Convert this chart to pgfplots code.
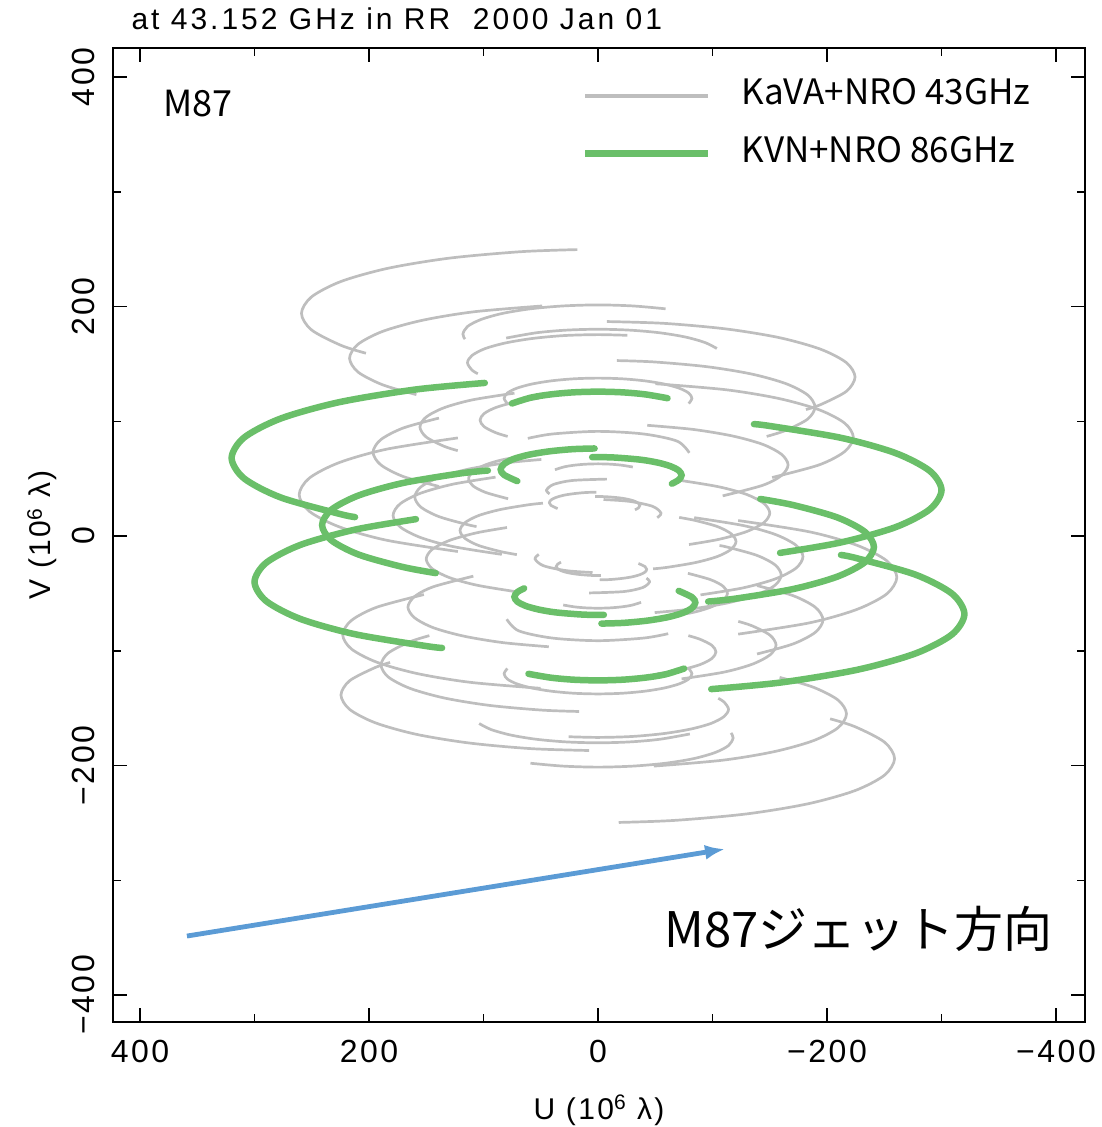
\documentclass[border=0pt]{standalone}
\usepackage{pgfplots}
\pgfplotsset{compat=1.18}
\usetikzlibrary{arrows.meta}
\usepackage{fontspec}
\setmainfont{Liberation Sans}
\newfontfamily\pg[LetterSpace=8]{Liberation Sans}
\newfontfamily\pgt[LetterSpace=10]{Liberation Sans}
\newfontfamily\cjk{Noto Sans CJK JP}
\definecolor{grayc}{RGB}{190,190,190}
\definecolor{greenc}{RGB}{106,191,105}
\definecolor{bluec}{RGB}{91,155,213}
\pgfplotsset{
  gr/.style={color=grayc, line width=2.7pt, smooth, no markers},
  grf/.style={gr, forget plot},
  gn/.style={color=greenc, line width=6.5pt, smooth, no markers, line cap=round},
  gnf/.style={gn, forget plot},
}
\begin{document}
\begin{tikzpicture}
\useasboundingbox (-113pt,-105pt) rectangle (988pt,1022pt);
\begin{axis}[name=ax, at={(0pt,0pt)}, anchor=south west, scale only axis,
  width=972pt, height=974pt,
  x dir=reverse, xmin=-425.3, xmax=423.6, ymin=-423.5, ymax=425.3,
  axis line style={line width=1.8pt},
  tick style={line width=1.5pt, black},
  major tick length=14pt, minor tick length=8pt, tick align=inside,
  xtick={-400,-200,0,200,400}, xticklabels={−400,−200,0,200,400},
  minor xtick={-300,-100,100,300},
  ytick={-400,-200,0,200,400}, yticklabels={−400,−200,0,200,400},
  minor ytick={-300,-100,100,300},
  xticklabel style={font=\pg\fontsize{32}{36}\selectfont, anchor=base},
  xticklabel shift=40pt,
  yticklabel style={font=\pg\fontsize{32}{36}\selectfont, rotate=90, anchor=base},
  yticklabel shift=18pt,
  legend style={at={(0.4825,0.9682)}, anchor=north west, draw=none, fill=none,
    inner sep=0pt, outer sep=0pt, row sep=32pt,
    font=\cjk\fontsize{35}{40}\selectfont,
    nodes={inner sep=0pt, text height=26pt, text depth=0pt}},
  legend cell align=left,
  legend image code/.code={\draw[#1] (0pt,-4pt) -- (123pt,-4pt); \path (153pt,0pt);},
]
\addlegendimage{color=grayc, line width=4.5pt}
\addlegendentry{KaVA+NRO 43GHz}
\addlegendimage{color=greenc, line width=7pt}
\addlegendentry{KVN+NRO 86GHz}
% ---------------- gray: KaVA+NRO 43 GHz ----------------
\addplot[grf] coordinates {(202.7,159.3) (224.3,166.1) (250.2,179.6) (259,194) (250.2,208.4) (224.3,221.9) (183.1,233.4) (129.5,242.2) (67.1,247.8) (18.1,249.6)};
\addplot[grf] coordinates {(-202.7,-159.3) (-224.3,-166.1) (-250.2,-179.6) (-259,-194) (-250.2,-208.4) (-224.3,-221.9) (-183.1,-233.4) (-129.5,-242.2) (-67.1,-247.8) (-18.1,-249.6)};
% G2
\addplot[grf] coordinates {(158.6,123.2) (187.9,131.7) (209.6,142.9) (217,155) (209.6,167.1) (187.9,178.4) (153.4,188) (108.5,195.4) (48.8,200.5)};
\addplot[grf] coordinates {(-158.6,-123.2) (-187.9,-131.7) (-209.6,-142.9) (-217,-155) (-209.6,-167.1) (-187.9,-178.4) (-153.4,-188) (-108.5,-195.4) (-48.8,-200.5)};
% G3
\addplot[grf] coordinates {(116.2,171.6) (118,176) (114,182.6) (102.2,188.7) (83.4,194) (59,198) (30.6,200.5) (0,201.4) (-30.6,200.5) (-59,198)};
\addplot[grf] coordinates {(-116.2,-171.6) (-118,-176) (-114,-182.6) (-102.2,-188.7) (-83.4,-194) (-59,-198) (-30.6,-200.5) (0,-201.4) (30.6,-200.5) (59,-198)};
% G4
\addplot[grf] coordinates {(-7.8,186.9) (-58.1,185.3) (-112.3,180.4) (-158.7,172.8) (-194.4,162.8) (-216.9,151.1) (-224.5,138.6) (-216.9,126.1) (-194.4,114.5) (-181.6,110.2)};
\addplot[grf] coordinates {(7.8,-186.9) (58.1,-185.3) (112.3,-180.4) (158.7,-172.8) (194.4,-162.8) (216.9,-151.1) (224.5,-138.6) (216.9,-126.1) (194.4,-114.5) (181.6,-110.2)};
% G5
\addplot[grf] coordinates {(80.2,172.5) (54,177.1) (28,179.4) (0,180.2) (-28,179.4) (-54,177.1) (-76.4,173.4) (-93.5,168.6) (-103.8,163.4)};
\addplot[grf] coordinates {(-80.2,-172.5) (-54,-177.1) (-28,-179.4) (0,-180.2) (28,-179.4) (54,-177.1) (76.4,-173.4) (93.5,-168.6) (103.8,-163.4)};
% G6
\addplot[grf] coordinates {(105,141.4) (110.1,144.7) (114,151) (110.1,157.3) (98.7,163.3) (80.6,168.3) (57,172.2) (29.5,174.7) (0,175.5) (-25.6,174.9)};
\addplot[grf] coordinates {(-105,-141.4) (-110.1,-144.7) (-114,-151) (-110.1,-157.3) (-98.7,-163.3) (-80.6,-168.3) (-57,-172.2) (-29.5,-174.7) (0,-175.5) (25.6,-174.9)};
% G7
\addplot[grf] coordinates {(-16.5,152.9) (-49.1,151.7) (-94.8,147.6) (-134,141.2) (-164.1,132.8) (-183.1,122.9) (-189.5,112.4) (-183.1,101.9) (-164.1,92.1) (-147.3,86.8)};
\addplot[grf] coordinates {(16.5,-152.9) (49.1,-151.7) (94.8,-147.6) (134,-141.2) (164.1,-132.8) (183.1,-122.9) (189.5,-112.4) (183.1,-101.9) (164.1,-92.1) (147.3,-86.8)};
% G9
\addplot[grf] coordinates {(79.2,115.4) (82,120) (79.2,124.6) (71,128.8) (58,132.4) (41,135.2) (21.2,137) (0,137.6) (-21.2,137) (-41,135.2) (-58,132.4) (-71,128.8) (-79.2,124.6) (-82,120) (-79.2,115.4)};
\addplot[grf] coordinates {(-79.2,-115.4) (-82,-120) (-79.2,-124.6) (-71,-128.8) (-58,-132.4) (-41,-135.2) (-21.2,-137) (0,-137.6) (21.2,-137) (41,-135.2) (58,-132.4) (71,-128.8) (79.2,-124.6) (82,-120) (79.2,-115.4)};
% G10
\addplot[grf] coordinates {(-50.2,132.7) (-111.5,127.5) (-157.7,119.9) (-193.1,110) (-215.4,98.4) (-223,86) (-215.4,73.6) (-193.1,62) (-152.1,51)};
\addplot[grf] coordinates {(50.2,-132.7) (111.5,-127.5) (157.7,-119.9) (193.1,-110) (215.4,-98.4) (223,-86) (215.4,-73.6) (193.1,-62) (152.1,-51)};
% G11
\addplot[grf] coordinates {(122.4,-13.5) (184.5,-3.7) (226,8) (252.1,21.5) (261,36) (252.1,50.5) (226,64) (184.5,75.7) (122.4,85.5)};
\addplot[grf] coordinates {(-122.4,13.5) (-184.5,3.7) (-226,-8) (-252.1,-21.5) (-261,-36) (-252.1,-50.5) (-226,-64) (-184.5,-75.7) (-122.4,-85.5)};
% G12
\addplot[grf] coordinates {(122.5,74.4) (134.7,78.3) (150.2,86.4) (155.5,95) (150.2,103.6) (134.7,111.7) (110,118.6) (73,124.5)};
\addplot[grf] coordinates {(-122.5,-74.4) (-134.7,-78.3) (-150.2,-86.4) (-155.5,-95) (-150.2,-103.6) (-134.7,-111.7) (-110,-118.6) (-73,-124.5)};
% G13
\addplot[grf] coordinates {(78.9,86.8) (89.2,90) (99.5,95.3) (103,101) (99.5,106.7) (89.2,112) (72.8,116.6) (51.5,120.1)};
\addplot[grf] coordinates {(-78.9,-86.8) (-89.2,-90) (-99.5,-95.3) (-103,-101) (-99.5,-106.7) (-89.2,-112) (-72.8,-116.6) (-51.5,-120.1)};
% G16
\addplot[grf] coordinates {(-43,96.5) (-83,92.9) (-117.4,87.2) (-143.8,79.9) (-160.3,71.2) (-166,62) (-160.3,52.8) (-143.8,44.2) (-108.9,35)};
\addplot[grf] coordinates {(43,-96.5) (83,-92.9) (117.4,-87.2) (143.8,-79.9) (160.3,-71.2) (166,-62) (160.3,-52.8) (143.8,-44.2) (108.9,-35)};
% G17
\addplot[grf] coordinates {(84,-16) (126.6,-9.2) (155,-1.3) (172.9,8) (179,18) (172.9,28) (155,37.3) (126.6,45.2) (89.5,51.3)};
\addplot[grf] coordinates {(-84,16) (-126.6,9.2) (-155,1.3) (-172.9,-8) (-179,-18) (-172.9,-28) (-155,-37.3) (-126.6,-45.2) (-89.5,-51.3)};
% G20
\addplot[grf] coordinates {(78.5,32.5) (97.9,37.9) (109.2,43.7) (113,50) (109.2,56.3) (97.9,62.2) (79.9,67.2) (46,72.2)};
\addplot[grf] coordinates {(-78.5,-32.5) (-97.9,-37.9) (-109.2,-43.7) (-113,-50) (-109.2,-56.3) (-97.9,-62.2) (-79.9,-67.2) (-46,-72.2)};
% G21
\addplot[grf] coordinates {(138.9,43.2) (170.2,51.9) (189.8,62.1) (196.5,73) (189.8,83.9) (170.2,94.1) (138.9,102.8)};
\addplot[grf] coordinates {(-138.9,-43.2) (-170.2,-51.9) (-189.8,-62.1) (-196.5,-73) (-189.8,-83.9) (-170.2,-94.1) (-138.9,-102.8)};
% N1
\addplot[grf] coordinates {(106.1,8.3) (113.1,9.7) (138.6,16.8) (154.6,25.1) (160,34) (154.6,42.9) (138.6,51.2) (113.1,58.3) (80,63.8) (49.5,66.7)};
\addplot[grf] coordinates {(-106.1,-8.3) (-113.1,-9.7) (-138.6,-16.8) (-154.6,-25.1) (-160,-34) (-154.6,-42.9) (-138.6,-51.2) (-113.1,-58.3) (-80,-63.8) (-49.5,-66.7)};
% N2
\addplot[grf] coordinates {(-68.1,48.8) (-75,48) (-106,42.8) (-129.9,36.2) (-144.9,28.4) (-150,20) (-144.9,11.7) (-129.9,3.9) (-106,-2.8) (-79.5,-7.4)};
\addplot[grf] coordinates {(68.1,-48.8) (75,-48) (106,-42.8) (129.9,-36.2) (144.9,-28.4) (150,-20) (144.9,-11.7) (129.9,-3.9) (106,2.8) (79.5,7.4)};
% N3
\addplot[grf] coordinates {(70.9,-16.2) (85.2,-13.5) (104.4,-8.2) (116.4,-1.9) (120.5,4.8) (116.4,11.5) (104.4,17.8) (85.2,23.1) (60.3,27.3) (48.1,28.6)};
\addplot[grf] coordinates {(-70.9,16.2) (-85.2,13.5) (-104.4,8.2) (-116.4,1.9) (-120.5,-4.8) (-116.4,-11.5) (-104.4,-17.8) (-85.2,-23.1) (-60.3,-27.3) (-48.1,-28.6)};
% K1
\addplot[grf] coordinates {(37.6,57.8) (29.4,60.3) (20.8,61.7) (10.8,62.6) (0,62.9) (-10.8,62.6) (-20.8,61.7) (-30.4,60.1)};
\addplot[grf] coordinates {(-37.6,-57.8) (-29.4,-60.3) (-20.8,-61.7) (-10.8,-62.6) (0,-62.9) (10.8,-62.6) (20.8,-61.7) (30.4,-60.1)};
% K2
\addplot[grf] coordinates {(35.3,23.9) (41.1,26.7) (42.5,29) (41.1,31.4) (36.8,33.6) (30.1,35.5) (21.3,36.9) (11,37.9) (1.5,38.2)};
\addplot[grf] coordinates {(-35.3,-23.9) (-41.1,-26.7) (-42.5,-29) (-41.1,-31.4) (-36.8,-33.6) (-30.1,-35.5) (-21.3,-36.9) (-11,-37.9) (-1.5,-38.2)};
% K3
\addplot[grf] coordinates {(2.6,34.4) (-6.4,34.3) (-18.3,33.3) (-25.8,32.1) (-31.6,30.5) (-35.3,28.6) (-36.5,26.5) (-35.3,24.5) (-32.3,22.8)};
\addplot[grf] coordinates {(-2.6,-34.4) (6.4,-34.3) (18.3,-33.3) (25.8,-32.1) (31.6,-30.5) (35.3,-28.6) (36.5,-26.5) (35.3,-24.5) (32.3,-22.8)};
% S1
\addplot[grf] coordinates {(-4.8,31.8) (-27.5,30.2) (-47.6,25.9) (-55,20) (-51.7,16)};
\addplot[grf] coordinates {(4.8,-31.8) (27.5,-30.2) (47.6,-25.9) (55,-20) (51.7,-16)};
% S2
\addplot[grf] coordinates {(42.3,36.7) (45,40) (39,44.9) (22.5,48.4) (-7.8,49.6)};
\addplot[grf] coordinates {(-42.3,-36.7) (-45,-40) (-39,-44.9) (-22.5,-48.4) (7.8,-49.6)};
% S4
\addplot[grf] coordinates {(61.3,85.1) (40,88.9) (0,91.2) (-40,88.9) (-69.3,82.6) (-79.7,72.5)};
\addplot[grf] coordinates {(-61.3,-85.1) (-40,-88.9) (0,-91.2) (40,-88.9) (69.3,-82.6) (79.7,-72.5)};
% ---------------- green: KVN+NRO 86 GHz ----------------
\addplot[gnf] coordinates {(212.2,16.5) (226.2,19.4) (277.1,33.6) (309.1,50.2) (320,68) (309.1,85.8) (277.1,102.4) (226.2,116.6) (160,127.6) (98.9,133.4)};
\addplot[gnf] coordinates {(-212.2,-16.5) (-226.2,-19.4) (-277.1,-33.6) (-309.1,-50.2) (-320,-68) (-309.1,-85.8) (-277.1,-102.4) (-226.2,-116.6) (-160,-127.6) (-98.9,-133.4)};
\addplot[gnf] coordinates {(-136.2,97.5) (-150,95.9) (-212.1,85.6) (-259.8,72.3) (-289.8,56.7) (-300,40) (-289.8,23.3) (-259.8,7.7) (-212.1,-5.6) (-159,-14.7)};
\addplot[gnf] coordinates {(136.2,-97.5) (150,-95.9) (212.1,-85.6) (259.8,-72.3) (289.8,-56.7) (300,-40) (289.8,-23.3) (259.8,-7.7) (212.1,5.6) (159,14.7)};
\addplot[gnf] coordinates {(141.7,-32.3) (170.4,-27) (208.7,-16.3) (232.8,-3.8) (241,9.6) (232.8,23) (208.7,35.5) (170.4,46.2) (120.5,54.5) (96.2,57.1)};
\addplot[gnf] coordinates {(-141.7,32.3) (-170.4,27) (-208.7,16.3) (-232.8,3.8) (-241,-9.6) (-232.8,-23) (-208.7,-35.5) (-170.4,-46.2) (-120.5,-54.5) (-96.2,-57.1)};
\addplot[gnf] coordinates {(75.2,115.5) (58.7,120.6) (41.5,123.4) (21.5,125.2) (0,125.8) (-21.5,125.2) (-41.5,123.4) (-60.7,120.1)};
\addplot[gnf] coordinates {(-75.2,-115.5) (-58.7,-120.6) (-41.5,-123.4) (-21.5,-125.2) (0,-125.8) (21.5,-125.2) (41.5,-123.4) (60.7,-120.1)};
\addplot[gnf] coordinates {(70.5,47.8) (82.1,53.3) (85,58) (82.1,62.7) (73.6,67.2) (60.1,70.9) (42.5,73.8) (22,75.7) (3,76.3)};
\addplot[gnf] coordinates {(-70.5,-47.8) (-82.1,-53.3) (-85,-58) (-82.1,-62.7) (-73.6,-67.2) (-60.1,-70.9) (-42.5,-73.8) (-22,-75.7) (-3,-76.3)};
\addplot[gnf] coordinates {(5.1,68.7) (-12.7,68.5) (-36.5,66.6) (-51.6,64.1) (-63.2,60.9) (-70.5,57.1) (-73,53) (-70.5,48.9) (-64.5,45.6)};
\addplot[gnf] coordinates {(-5.1,-68.7) (12.7,-68.5) (36.5,-66.6) (51.6,-64.1) (63.2,-60.9) (70.5,-57.1) (73,-53) (70.5,-48.9) (64.5,-45.6)};
% ---------------- jet direction arrow ----------------
\addplot[forget plot, color=bluec, line width=4.8pt, -{Latex[length=20pt,width=15pt]}] coordinates {(359,-348.6) (-110.9,-272.8)};
\end{axis}
\node[anchor=base west, font=\pgt\fontsize{30}{34}\selectfont] at ([xshift=15pt,yshift=18pt]ax.north west) {at 43.152 GHz in RR\ \ 2000 Jan 01};
\node[anchor=base west, font=\cjk\fontsize{36}{40}\selectfont] at ([xshift=47pt,yshift=-69pt]ax.north west) {M87};
\node[anchor=base west, font=\cjk\fontsize{49}{56}\selectfont] at ([xshift=548pt,yshift=74pt]ax.south west) {M87ジェット方向};
\node[anchor=base, font=\pg\fontsize{30}{34}\selectfont] at ([yshift=-97pt]ax.south) {U (10\textsuperscript{6} λ)};
\node[rotate=90, anchor=base, font=\pg\fontsize{30}{34}\selectfont] at ([xshift=-62pt]ax.west) {V (10\textsuperscript{6} λ)};
\end{tikzpicture}
\end{document}
